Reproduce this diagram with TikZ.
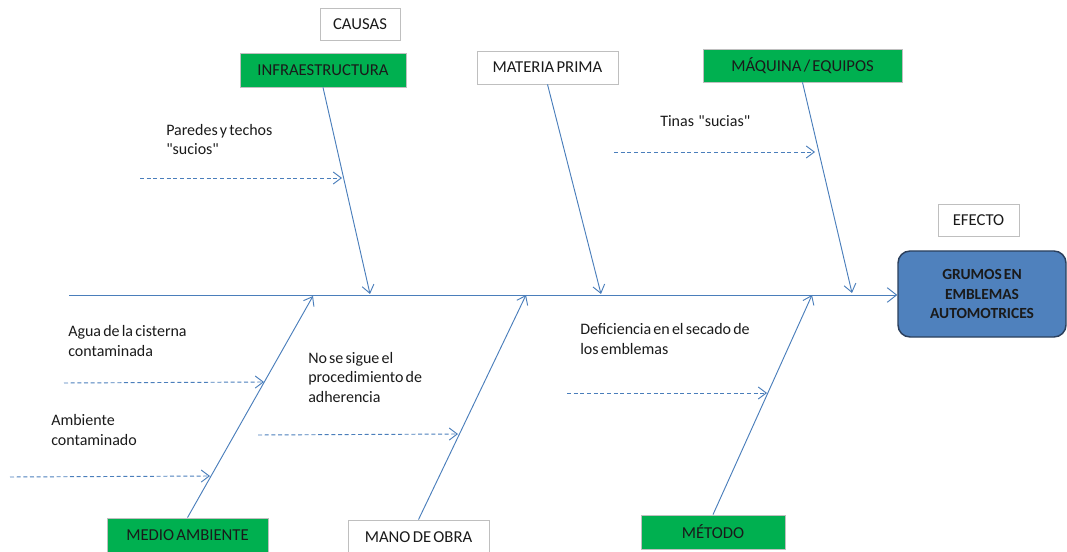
\documentclass[tikz,border=0pt]{standalone}
\usepackage{fontspec}
\setmainfont{Carlito}[WordSpace=0.6]
\usetikzlibrary{arrows.meta}
\definecolor{boneblue}{HTML}{4A7EBB}
\definecolor{catgreen}{HTML}{00B050}
\definecolor{effblue}{HTML}{4F81BD}
\definecolor{effedge}{HTML}{2B3F5C}
\definecolor{boxgray}{HTML}{BFBFBF}
\definecolor{txt}{HTML}{1A1A1A}
\newcommand{\qq}{\textquotedbl}
\begin{document}
\begin{tikzpicture}[x=0.75pt,y=-0.75pt,
  font=\fontsize{12pt}{14.5pt}\selectfont, text=txt,
  labelfont/.style={font=\fontsize{12.5pt}{15pt}\selectfont},
  plainbox/.style={draw=boxgray, fill=white, line width=0.6pt, inner sep=0pt, labelfont},
  greenbox/.style={draw=boxgray, fill=catgreen, line width=0.6pt, inner sep=0pt, labelfont},
  effectbox/.style={draw=effedge, fill=effblue, line width=1.1pt, rounded corners=9pt,
    inner sep=0pt, align=center, font=\fontsize{11.6pt}{14.5pt}\selectfont\bfseries},
  bone/.style={draw=boneblue, line width=0.7pt, -{Straight Barb[length=6pt,width=9pt,line width=0.7pt]}},
  spine/.style={draw=boneblue, line width=0.7pt, -{Straight Barb[length=7pt,width=11pt,line width=0.7pt]}},
  cause/.style={draw=boneblue, line width=0.7pt, dash pattern=on 3pt off 2pt,
    -{Straight Barb[length=6pt,width=9pt,line width=0.7pt]}},
  note/.style={anchor=base west, inner sep=0pt, align=left}]
\useasboundingbox (0,0) rectangle (1067,552);
\clip (0,0) rectangle (1067,552);

% headings
\node[plainbox, minimum width=60pt, minimum height=24pt] (causas) at (360,24) {CAUSAS};
\node[plainbox, minimum width=60.75pt, minimum height=24pt] (efecto) at (978.5,220) {EFECTO};

% category boxes
\node[greenbox, minimum width=124.5pt, minimum height=25.5pt] (infra) at (323,70) {INFRAESTRUCTURA};
\node[plainbox, minimum width=105.75pt, minimum height=24.75pt] (materia) at (547.5,67.5) {MATERIA PRIMA};
\node[greenbox, minimum width=149.25pt, minimum height=24.75pt] (maquina) at (802.5,65.5) {MÁQUINA / EQUIPOS};
\node[greenbox, minimum width=120.75pt, minimum height=26.25pt] (medio) at (187.5,535.5) {MEDIO AMBIENTE};
\node[plainbox, minimum width=105.75pt, minimum height=25.5pt] (mano) at (418.5,537) {MANO DE OBRA};
\node[greenbox, minimum width=108pt, minimum height=25.5pt] (metodo) at (713,532) {MÉTODO};

% effect
\node[effectbox, minimum width=126pt, minimum height=64.5pt] (efect) at (982,294)
  {GRUMOS EN\\EMBLEMAS\\AUTOMOTRICES};

% spine
\coordinate (tail) at (69,295);
\draw[spine] (tail) -- (efect.west |- tail);

% bone ends on the spine
\coordinate (jInfra) at (370,294);
\coordinate (jMateria) at (601,294);
\coordinate (jMaquina) at (852,293);
\coordinate (jMedio) at (313,296);
\coordinate (jMano) at (526,295);
\coordinate (jMetodo) at (812,295);

\draw[bone] (infra.south) -- (jInfra);
\draw[bone] (materia.south) -- (jMateria);
\draw[bone] (maquina.south) -- (jMaquina);
\draw[bone] (medio.north) -- (jMedio);
\draw[bone] (mano.north) -- (jMano);
\draw[bone] (metodo.north) -- (jMetodo);

% causes
\coordinate (pStart) at (140,178);  \coordinate (pEnd) at (342,178);
\coordinate (tStart) at (614,152);  \coordinate (tEnd) at (815,152);
\coordinate (aStart) at (64,383);   \coordinate (aEnd) at (264,382);
\coordinate (bStart) at (10,477);   \coordinate (bEnd) at (210,476);
\coordinate (nStart) at (258,435);  \coordinate (nEnd) at (458,434);
\coordinate (dStart) at (567,393);  \coordinate (dEnd) at (767,393);

\draw[cause] (pStart) -- (pEnd);
\draw[cause] (tStart) -- (tEnd);
\draw[cause] (aStart) -- (aEnd);
\draw[cause] (bStart) -- (bEnd);
\draw[cause] (nStart) -- (nEnd);
\draw[cause] (dStart) -- (dEnd);

% cause texts (positioned at the baseline of their last line)
\node[note] (paredes) at (166,155) {Paredes y techos\\\qq sucios\qq};
\node[note] (tinas) at (660,127) {Tinas~ \qq sucias\qq};
\node[note] (agua) at (68,356) {Agua de la cisterna\\contaminada};
\node[note] (amb) at (51,445) {Ambiente\\contaminado};
\node[note] (nosigue) at (308,402) {No se sigue el\\procedimiento de\\adherencia};
\node[note] (defic) at (580,354) {Deficiencia en el secado de\\los emblemas};
\end{tikzpicture}
\end{document}
